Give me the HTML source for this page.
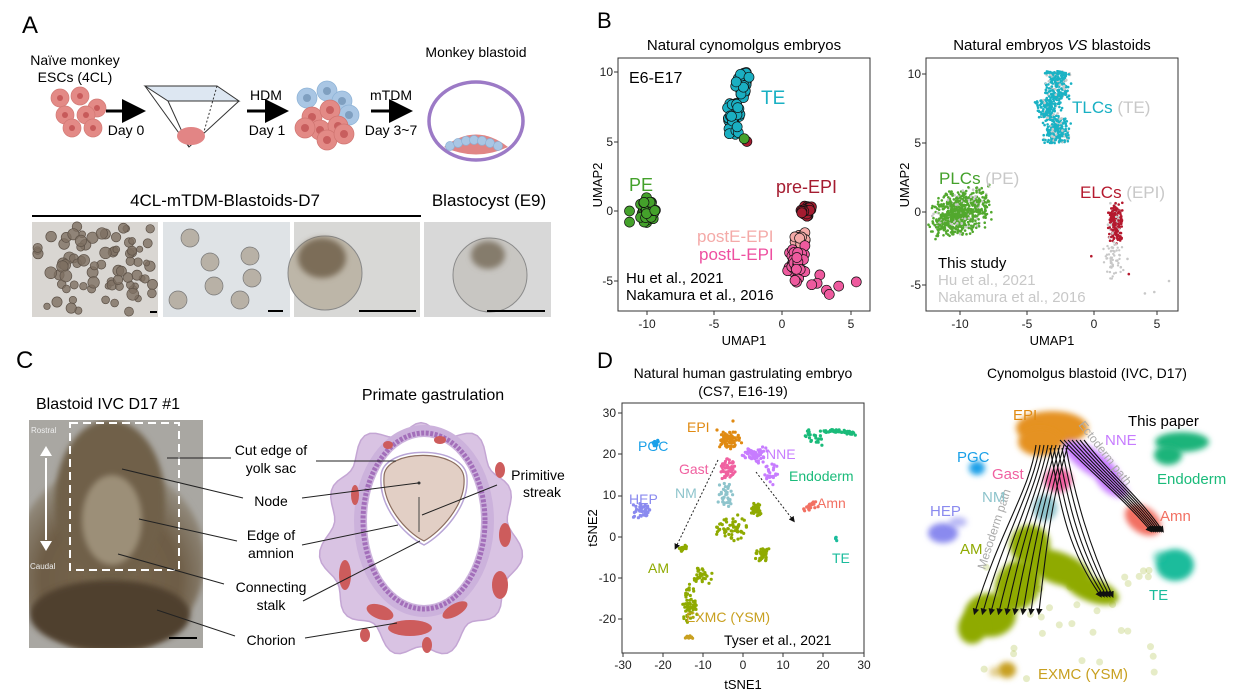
<!DOCTYPE html>
<html><head><meta charset="utf-8"><style>
html,body{margin:0;padding:0;background:#fff}
svg{display:block;font-family:"Liberation Sans",Arial,sans-serif}
</style></head><body>
<svg id="s" width="1249" height="695" viewBox="0 0 1249 695" xmlns="http://www.w3.org/2000/svg">
<defs>
<filter id="bl" x="-50%" y="-50%" width="200%" height="200%"><feGaussianBlur stdDeviation="3"/></filter>
<radialGradient id="ph" cx="0.5" cy="0.6" r="0.6"><stop offset="0" stop-color="#7a6a52"/><stop offset="0.6" stop-color="#6d5c45"/><stop offset="1" stop-color="#9a9488"/></radialGradient>
<clipPath id="cp"><rect x="29" y="420" width="174" height="228"/></clipPath>
<marker id="ar" markerWidth="8" markerHeight="8" refX="6" refY="4" orient="auto"><path d="M0,0 L8,4 L0,8 z" fill="#000"/></marker>
<marker id="ar2" markerWidth="6" markerHeight="6" refX="3" refY="3" orient="auto"><path d="M0,0 L6,3 L0,6 z" fill="#111"/></marker>
</defs>

<text x="22" y="33" font-size="24">A</text>
<text x="597" y="28" font-size="22">B</text>
<text x="16" y="368" font-size="24">C</text>
<text x="597" y="368" font-size="22">D</text>

<!-- ===== Panel A ===== -->
<text x="75" y="65" font-size="14" text-anchor="middle">Naïve monkey</text>
<text x="75" y="82" font-size="14" text-anchor="middle">ESCs (4CL)</text>
<g id="esc"></g>
<line x1="106" y1="111" x2="140" y2="111" stroke="#000" stroke-width="3" marker-end="url(#ar)"/>
<text x="126" y="135" font-size="14" text-anchor="middle">Day 0</text>
<polygon points="145,86 217,86 239,101 168,101" fill="#dde7f2" stroke="#333" stroke-width="1"/>
<polyline points="145,86 189,147 239,101" fill="none" stroke="#333"/>
<line x1="168" y1="101" x2="189" y2="147" stroke="#333"/>
<line x1="217" y1="86" x2="203" y2="135" stroke="#333" stroke-dasharray="2,2"/>
<ellipse cx="191" cy="136" rx="14" ry="9" fill="#e28585"/>
<line x1="247" y1="111" x2="283" y2="111" stroke="#000" stroke-width="3" marker-end="url(#ar)"/>
<text x="266" y="100" font-size="14" text-anchor="middle">HDM</text>
<text x="267" y="135" font-size="14" text-anchor="middle">Day 1</text>
<g id="clu"></g>
<line x1="371" y1="111" x2="407" y2="111" stroke="#000" stroke-width="3" marker-end="url(#ar)"/>
<text x="391" y="100" font-size="14" text-anchor="middle">mTDM</text>
<text x="391" y="135" font-size="14" text-anchor="middle">Day 3~7</text>
<text x="476" y="57" font-size="14" text-anchor="middle">Monkey blastoid</text>
<ellipse cx="476" cy="121" rx="47" ry="39" fill="#fff" stroke="#9c7ac6" stroke-width="3.5"/>
<path d="M444,147 Q476,122 508,147 Q476,162 444,147z" fill="#e08585"/>
<g id="tro"></g>
<text x="225" y="206" font-size="17" text-anchor="middle">4CL-mTDM-Blastoids-D7</text>
<line x1="32" y1="216" x2="421" y2="216" stroke="#000" stroke-width="2"/>
<text x="489" y="206" font-size="17" text-anchor="middle">Blastocyst (E9)</text>
<rect x="32" y="222" width="126" height="95" fill="#d9d6d2"/>
<rect x="163" y="222" width="127" height="95" fill="#dfe3e6"/>
<rect x="294" y="222" width="126" height="95" fill="#d8d8d6"/>
<rect x="424" y="222" width="127" height="95" fill="#d8d8d8"/>
<g id="ph1"></g>
<circle cx="325" cy="273" r="37" fill="#bdb6a8" stroke="#888" stroke-width="1"/>
<ellipse cx="322" cy="258" rx="24" ry="20" fill="#7c6d58" filter="url(#bl)"/>
<circle cx="490" cy="275" r="37" fill="#c8c6c2" stroke="#8a8a8a" stroke-width="1"/>
<ellipse cx="488" cy="255" rx="17" ry="14" fill="#857b6c" filter="url(#bl)"/>
<line x1="150" y1="312" x2="157" y2="312" stroke="#000" stroke-width="2"/>
<line x1="268" y1="311" x2="283" y2="311" stroke="#000" stroke-width="2"/>
<line x1="359" y1="311" x2="416" y2="311" stroke="#000" stroke-width="2"/>
<line x1="487" y1="311" x2="545" y2="311" stroke="#000" stroke-width="2"/>

<!-- ===== Panel B left ===== -->
<text x="744" y="50" font-size="15" text-anchor="middle">Natural cynomolgus embryos</text>
<rect x="618" y="58" width="252" height="253" fill="none" stroke="#333" stroke-width="1"/>
<g font-size="12" text-anchor="end" fill="#222">
<text x="613" y="76">10</text><text x="613" y="146">5</text><text x="613" y="215">0</text><text x="613" y="285">-5</text></g>
<g stroke="#333"><line x1="614" y1="72" x2="618" y2="72"/><line x1="614" y1="142" x2="618" y2="142"/><line x1="614" y1="211" x2="618" y2="211"/><line x1="614" y1="281" x2="618" y2="281"/>
<line x1="647" y1="311" x2="647" y2="315"/><line x1="714" y1="311" x2="714" y2="315"/><line x1="782" y1="311" x2="782" y2="315"/><line x1="851" y1="311" x2="851" y2="315"/></g>
<g font-size="12" text-anchor="middle" fill="#222"><text x="647" y="328">-10</text><text x="714" y="328">-5</text><text x="782" y="328">0</text><text x="851" y="328">5</text></g>
<text x="744" y="345" font-size="13" text-anchor="middle">UMAP1</text>
<text x="0" y="0" font-size="13" text-anchor="middle" transform="translate(602,185) rotate(-90)">UMAP2</text>
<g id="bl_pts"></g>
<text x="629" y="83" font-size="16">E6-E17</text>
<text x="761" y="104" font-size="19" fill="#19b0c3">TE</text>
<text x="629" y="191" font-size="18" fill="#44a12b">PE</text>
<text x="776" y="193" font-size="18" fill="#a51c30">pre-EPI</text>
<text x="697" y="242" font-size="17" fill="#f4aaa8">postE-EPI</text>
<text x="699" y="260" font-size="17" fill="#ee4fa0">postL-EPI</text>
<text x="626" y="283" font-size="15">Hu et al., 2021</text>
<text x="626" y="300" font-size="15">Nakamura et al., 2016</text>

<!-- ===== Panel B right ===== -->
<text x="1052" y="50" font-size="15" text-anchor="middle">Natural embryos <tspan font-style="italic">VS</tspan> blastoids</text>
<rect x="926" y="58" width="252" height="253" fill="none" stroke="#333" stroke-width="1"/>
<g font-size="12" text-anchor="end" fill="#222">
<text x="921" y="78">10</text><text x="921" y="147">5</text><text x="921" y="216">0</text><text x="921" y="289">-5</text></g>
<g stroke="#333"><line x1="922" y1="74" x2="926" y2="74"/><line x1="922" y1="143" x2="926" y2="143"/><line x1="922" y1="212" x2="926" y2="212"/><line x1="922" y1="285" x2="926" y2="285"/>
<line x1="960" y1="311" x2="960" y2="315"/><line x1="1027" y1="311" x2="1027" y2="315"/><line x1="1094" y1="311" x2="1094" y2="315"/><line x1="1157" y1="311" x2="1157" y2="315"/></g>
<g font-size="12" text-anchor="middle" fill="#222"><text x="960" y="328">-10</text><text x="1027" y="328">-5</text><text x="1094" y="328">0</text><text x="1157" y="328">5</text></g>
<text x="1052" y="345" font-size="13" text-anchor="middle">UMAP1</text>
<text x="0" y="0" font-size="13" text-anchor="middle" transform="translate(909,185) rotate(-90)">UMAP2</text>
<g id="br_pts"></g>
<text x="1072" y="113" font-size="17" fill="#19b0c3">TLCs <tspan fill="#c8c8c8">(TE)</tspan></text>
<text x="939" y="184" font-size="17" fill="#44a12b">PLCs <tspan fill="#c8c8c8">(PE)</tspan></text>
<text x="1080" y="198" font-size="17" fill="#b5192e">ELCs <tspan fill="#c8c8c8">(EPI)</tspan></text>
<text x="938" y="268" font-size="15">This study</text>
<text x="938" y="285" font-size="15" fill="#c8c8c8">Hu et al., 2021</text>
<text x="938" y="302" font-size="15" fill="#c8c8c8">Nakamura et al., 2016</text>

<!-- ===== Panel C ===== -->
<text x="36" y="409" font-size="16">Blastoid IVC D17 #1</text>
<rect x="29" y="420" width="174" height="228" fill="#a9a7a2"/>
<g clip-path="url(#cp)">
<ellipse cx="110" cy="560" rx="95" ry="95" fill="url(#ph)" filter="url(#bl)"/>
<ellipse cx="110" cy="500" rx="55" ry="80" fill="#6f6048" filter="url(#bl)"/>
<ellipse cx="112" cy="520" rx="30" ry="45" fill="#9c8f78" filter="url(#bl)"/>
<ellipse cx="110" cy="615" rx="80" ry="35" fill="#4f412f" filter="url(#bl)"/>
</g>
<rect x="70" y="423" width="109" height="147" fill="none" stroke="#fff" stroke-width="2" stroke-dasharray="8,5"/>
<line x1="46" y1="458" x2="46" y2="540" stroke="#fff" stroke-width="2"/>
<polygon points="40,456 52,456 46,446" fill="#fff"/><polygon points="40,541 52,541 46,551" fill="#fff"/>
<text x="31" y="433" font-size="8" fill="#eee">Rostral</text>
<text x="30" y="569" font-size="8" fill="#eee">Caudal</text>
<line x1="169" y1="638" x2="197" y2="638" stroke="#000" stroke-width="2"/>
<text x="433" y="400" font-size="16" text-anchor="middle">Primate gastrulation</text>
<path id="outer" d="" fill="#d9c3e3" stroke="#c4a6d4" stroke-width="1.5"/>
<ellipse cx="424" cy="521" rx="70" ry="96" fill="#ccb2dc"/>
<ellipse cx="424" cy="521" rx="61" ry="88" fill="none" stroke="#a36fba" stroke-width="5" stroke-dasharray="3,1.5"/>
<ellipse cx="424" cy="521" rx="57" ry="84" fill="#fff"/>
<g id="red"></g>
<path d="M384,477 C384,448 462,448 464,478 C466,505 440,532 424,541 C406,532 382,505 384,477z" fill="#e2cfc5" stroke="#8b6d5e" stroke-width="1.2"/>
<path d="M381,477 C381,444 466,444 467,478 C469,507 442,535 424,545 C404,535 379,507 381,477z" fill="none" stroke="#b8a5d6" stroke-width="1.5"/>
<circle cx="419" cy="483" r="1.5" fill="#333"/>
<line x1="419" y1="497" x2="419" y2="532" stroke="#444" stroke-width="1"/>
<g font-size="14" text-anchor="middle">
<text x="271" y="455">Cut edge of</text><text x="271" y="473">yolk sac</text>
<text x="271" y="506">Node</text>
<text x="271" y="540">Edge of</text><text x="271" y="558">amnion</text>
<text x="271" y="592">Connecting</text><text x="271" y="610">stalk</text>
<text x="271" y="645">Chorion</text>
<text x="538" y="480">Primitive</text><text x="542" y="497">streak</text></g>
<g stroke="#222" stroke-width="1" fill="none">
<line x1="167" y1="458" x2="231" y2="458"/><line x1="316" y1="461" x2="396" y2="461"/>
<line x1="122" y1="469" x2="243" y2="498"/><line x1="302" y1="498" x2="418" y2="483"/>
<line x1="139" y1="519" x2="237" y2="541"/><line x1="302" y1="545" x2="398" y2="525"/>
<line x1="118" y1="554" x2="224" y2="584"/><line x1="303" y1="601" x2="420" y2="541"/>
<line x1="157" y1="610" x2="235" y2="636"/><line x1="305" y1="638" x2="397" y2="623"/>
<line x1="422" y1="515" x2="497" y2="485"/></g>

<!-- ===== Panel D left ===== -->
<text x="743" y="378" font-size="14" text-anchor="middle">Natural human gastrulating embryo</text>
<text x="743" y="396" font-size="14" text-anchor="middle">(CS7, E16-19)</text>
<rect x="622" y="403" width="242" height="250" fill="none" stroke="#333" stroke-width="1"/>
<g font-size="12" text-anchor="end" fill="#222">
<text x="616" y="417">30</text><text x="616" y="458">20</text><text x="616" y="499">10</text><text x="616" y="541">0</text><text x="616" y="582">-10</text><text x="616" y="623">-20</text></g>
<g font-size="12" text-anchor="middle" fill="#222"><text x="623" y="669">-30</text><text x="663" y="669">-20</text><text x="703" y="669">-10</text><text x="743" y="669">0</text><text x="783" y="669">10</text><text x="823" y="669">20</text><text x="864" y="669">30</text></g>
<g id="dticks" stroke="#333"></g>
<text x="743" y="689" font-size="13" text-anchor="middle">tSNE1</text>
<text x="0" y="0" font-size="13" text-anchor="middle" transform="translate(597,528) rotate(-90)">tSNE2</text>
<g id="dl_pts"></g>
<line x1="718" y1="460" x2="676" y2="547" stroke="#222" stroke-dasharray="2,2" marker-end="url(#ar2)"/>
<line x1="756" y1="472" x2="793" y2="520" stroke="#222" stroke-dasharray="2,2" marker-end="url(#ar2)"/>
<g font-size="14">
<text x="687" y="432" fill="#e08a12">EPI</text>
<text x="638" y="451" fill="#1aa0e8">PGC</text>
<text x="679" y="474" fill="#f060a0">Gast</text>
<text x="766" y="459" fill="#c77cff">NNE</text>
<text x="789" y="481" fill="#1abb7a">Endoderm</text>
<text x="629" y="504" fill="#8a8aef">HEP</text>
<text x="675" y="498" fill="#8ec4cc">NM</text>
<text x="817" y="508" fill="#f27062">Amn</text>
<text x="832" y="563" fill="#1abc9c">TE</text>
<text x="648" y="573" fill="#8faa00">AM</text>
<text x="686" y="622" fill="#c8a020">EXMC (YSM)</text>
<text x="724" y="645" fill="#000">Tyser et al., 2021</text></g>

<!-- ===== Panel D right ===== -->
<text x="1087" y="378" font-size="14" text-anchor="middle">Cynomolgus blastoid (IVC, D17)</text>
<g id="dr_pts"></g>
<g id="stream" fill="none" stroke="#111" stroke-width="1.1"></g>
<text x="0" y="0" font-size="12" fill="#aaa" transform="translate(1078,425) rotate(52)">Ectoderm path</text>
<text x="0" y="0" font-size="12" fill="#aaa" transform="translate(985,570) rotate(-72)">Mesoderm path</text>
<g font-size="15">
<text x="1013" y="420" fill="#e08a12">EPI</text>
<text x="1128" y="426" fill="#000">This paper</text>
<text x="1105" y="445" fill="#c77cff">NNE</text>
<text x="957" y="462" fill="#1aa0e8">PGC</text>
<text x="992" y="479" fill="#f060a0">Gast</text>
<text x="1157" y="484" fill="#1abb7a">Endoderm</text>
<text x="982" y="502" fill="#8ec4cc">NM</text>
<text x="930" y="516" fill="#8a8aef">HEP</text>
<text x="1160" y="521" fill="#f27062">Amn</text>
<text x="960" y="554" fill="#8faa00">AM</text>
<text x="1149" y="600" fill="#1abc9c">TE</text>
<text x="1038" y="679" fill="#c8a020">EXMC (YSM)</text></g>
</svg>
<script>
(function(){
var s=12345;function r(){s=(s*1103515245+12345)%2147483648;return s/2147483648;}
function g(){return (r()+r()-1);}
var NS="http://www.w3.org/2000/svg";
function el(p,t,a){var e=document.createElementNS(NS,t);for(var k in a)e.setAttribute(k,a[k]);document.getElementById(p).appendChild(e);return e;}
function c(p,x,y,rad,f,st,op){var a={cx:x.toFixed(1),cy:y.toFixed(1),r:rad,fill:f};if(st){a.stroke=st;a["stroke-width"]=0.7;}if(op)a["fill-opacity"]=op;el(p,"circle",a);}
[[60,98],[80,96],[97,108],[86,115],[65,115],[72,128],[93,128]].forEach(function(p){c("esc",p[0],p[1],9,"#e38a86","#d27975");c("esc",p[0],p[1],3,"#c75a5a");});
[[307,98],[327,91],[342,101],[349,115]].forEach(function(p){c("clu",p[0],p[1],10,"#a9c6e4","#8cb2d6");c("clu",p[0],p[1],4,"#7f9fc0");});
[[312,117],[330,110],[320,130],[338,126],[305,128],[327,140],[344,134]].forEach(function(p){c("clu",p[0],p[1],10,"#e38a86","#cf7470");c("clu",p[0],p[1],4,"#c85e5e");});
for(var i=0;i<7;i++){c("tro",450+i*8,146-Math.sin(i/6*Math.PI)*6,4.5,"#a9c6e4","#8cb2d6");}
for(var i=0;i<80;i++){var x=37+r()*116,y=226+r()*86;c("ph1",x,y,3+r()*3,"#7d6f62","#5d5248",0.8);}
[[190,238],[210,262],[250,256],[178,300],[214,286],[240,300],[252,278]].forEach(function(p){c("ph1",p[0],p[1],9,"#b8b1a6","#777");});
function X1(u){return 782+13.5*u;}function Y1(v){return 211-13.9*v;}
for(i=0;i<70;i++){var t=r();var u=-3.2+g()*0.6+(t<0.5?-0.3:0.2),v=5.5+t*4.5;c("bl_pts",X1(u),Y1(v),5,"#1aafc2","#111");}
c("bl_pts",X1(-2.6),Y1(5),5,"#a51c30","#111");c("bl_pts",X1(-2.8),Y1(5.2),5,"#44a12b","#111");
for(i=0;i<45;i++)c("bl_pts",X1(-10+g()*0.7),Y1(g()*1),5,"#44a12b","#111");
c("bl_pts",X1(-11.3),Y1(0),5,"#44a12b","#111");c("bl_pts",X1(-11.3),Y1(-0.8),5,"#44a12b","#111");
for(i=0;i<30;i++)c("bl_pts",X1(1.8+g()*0.5),Y1(0+g()*0.5),5,"#a51c30","#111");
for(i=0;i<15;i++)c("bl_pts",X1(1.5+g()*0.6),Y1(-2+g()*0.7),5,"#f4aaa8","#111");
for(i=0;i<40;i++)c("bl_pts",X1(1+g()*0.9),Y1(-3.8+g()*1.4),5,"#ee5a9e","#111");
[[2.8,-4.6],[2.6,-5.2],[3.3,-5.7],[3.5,-6],[4.2,-5.4],[5.5,-5.1],[2.2,-5.3]].forEach(function(p){c("bl_pts",X1(p[0]),Y1(p[1]),5,"#ee5a9e","#111");});
function X2(u){return 1094+13.4*u;}function Y2(v){return 212-13.8*v;}
for(i=0;i<600;i++){var t=r();var u=-3.1+g()*1.1+(t>0.6?0.4:(t>0.35?-0.3:0.3)),v=5+t*5.2;c("br_pts",X2(u),Y2(v),1.3,r()<0.15?"#c8c8c8":"#1ab2c4");}
for(i=0;i<700;i++){var u=-10+g()*2.4,v=g()*1.8+(u+10)*0.25;c("br_pts",X2(u),Y2(v),1.3,r()<0.1?"#c8c8c8":"#52a82e");}
for(i=0;i<220;i++){var u=1.6+g()*0.6,v=-0.8+g()*1.6;c("br_pts",X2(u),Y2(v),1.3,r()<0.2?"#c8c8c8":"#b5192e");}
for(i=0;i<60;i++)c("br_pts",X2(1.4+g()*0.9),Y2(-3.5+g()*1.6),1.2,"#c8c8c8");
[[5.6,-5],[4.5,-5.8],[3.8,-5.9],[-0.2,-3.2],[2.5,-3.4],[2,-4],[2.6,-4.5]].forEach(function(p){c("br_pts",X2(p[0]),Y2(p[1]),1.3,p[0]<0||p[0]==2.6?"#b5192e":"#c8c8c8");});
[413,454,496,537,578,619].forEach(function(y){el("dticks","line",{x1:618,y1:y,x2:622,y2:y});});
[623,663,703,743,783,823,864].forEach(function(x){el("dticks","line",{x1:x,y1:653,x2:x,y2:657});});
function Y3(t){return 537-4.12*t;}
function cl(id,n,cx,cy,sx,sy,col,rad){for(var k=0;k<n;k++)c(id,cx+g()*sx,cy+g()*sy,rad,col);}
cl("dl_pts",70,730,440,12,9,"#e08a12",1.6);c("dl_pts",733,421,1.6,"#e08a12");c("dl_pts",717,430,1.6,"#e08a12");
cl("dl_pts",60,755,455,14,9,"#c77cff",1.6);cl("dl_pts",25,770,475,8,12,"#c77cff",1.6);
cl("dl_pts",50,728,468,9,12,"#f060a0",1.6);
cl("dl_pts",35,726,495,8,14,"#8ec4cc",1.6);
for(i=0;i<70;i++){var t=r();c("dl_pts",805+t*50+g()*3,Y3(25)+(t<0.35?g()*6+t*20:-Math.sin(t*3)*3)+g()*2,1.6,"#1abb7a");}
cl("dl_pts",20,810,508,10,7,"#f27062",1.6);
cl("dl_pts",14,655,443,5,4,"#1aa0e8",1.6);
cl("dl_pts",45,642,510,13,9,"#8a8aef",1.6);
cl("dl_pts",5,836,540,1,5,"#1abc9c",1.6);
cl("dl_pts",45,757,510,7,8,"#8faa00",1.6);cl("dl_pts",60,733,528,18,14,"#8faa00",1.6);
cl("dl_pts",40,762,554,8,8,"#8faa00",1.6);cl("dl_pts",60,690,605,8,24,"#8faa00",1.6);cl("dl_pts",35,702,575,10,10,"#8faa00",1.6);
cl("dl_pts",20,683,548,8,4,"#8faa00",1.6);
cl("dl_pts",16,690,637,5,2,"#c8a020",1.6);
function blob(cx,cy,rx,ry,col,op,rot){var e=el("dr_pts","ellipse",{cx:cx,cy:cy,rx:rx,ry:ry,fill:col,"fill-opacity":op||1,filter:"url(#bl)"});if(rot)e.setAttribute("transform","rotate("+rot+" "+cx+" "+cy+")");}
for(i=0;i<40;i++){c("dr_pts",960+r()*200,560+r()*120,3.5,"#8faa00",null,0.22);}
blob(1052,428,36,17,"#e59220");blob(1040,442,22,14,"#e59220");
blob(1092,462,34,12,"#c77cff",1,35);blob(1112,485,18,9,"#c77cff",1,35);
blob(1143,520,20,13,"#f27062",1,35);
blob(1175,565,19,16,"#1abc9c");blob(1160,557,7,6,"#1abc9c",0.5);
blob(1182,442,27,10,"#1cb47a");blob(1168,455,14,10,"#1cb47a");
blob(977,468,8,7,"#1aa0e8");
blob(943,533,15,10,"#8a8aef");blob(958,522,9,5,"#8a8aef",0.6);
blob(1058,480,14,12,"#f060a0");
blob(1045,508,12,13,"#8ec4cc");
blob(1030,545,20,20,"#8faa00");blob(1058,568,34,16,"#8faa00",1,20);blob(1092,590,28,12,"#8faa00",1,20);
blob(1018,585,22,26,"#8faa00",1,30);blob(990,615,26,22,"#8faa00");blob(972,628,14,16,"#8faa00");
blob(1007,670,9,8,"#c8a020");blob(995,672,6,5,"#c8a020",0.5);
function sl(d){el("stream","path",{d:d,"marker-end":"url(#ar2)"});}
for(i=0;i<9;i++){sl("M"+(1036+i*4)+",445 C"+(1030+i*3)+",490 "+(1000+i*6)+",530 "+(975+i*8)+",612");}
for(i=0;i<5;i++){sl("M"+(1050+i*4)+",448 C"+(1060+i*4)+",500 "+(1065+i*6)+",545 "+(1100+i*3)+",595");}
for(i=0;i<7;i++){sl("M"+(1060+i*4)+",440 C"+(1090+i*3)+",472 "+(1120+i*3)+",495 "+(1150+i*2)+",530");}
})();
(function(){var d="",cx=421,cy=538,N=120;for(var i=0;i<=N;i++){var a=i/N*2*Math.PI;var w=1+0.06*Math.sin(a*11)+0.03*Math.sin(a*5);var x=cx+95*w*Math.cos(a),y=cy+112*w*Math.sin(a);d+=(i?"L":"M")+x.toFixed(1)+","+y.toFixed(1);}document.getElementById("outer").setAttribute("d",d+"Z");
var NS="http://www.w3.org/2000/svg",g=document.getElementById("red");
[[380,612,14,7,20],[410,628,22,8,0],[455,610,14,6,-30],[500,585,8,14,0],[505,535,6,12,0],[345,575,6,15,0],[355,495,4,10,0],[500,470,5,8,0],[440,440,6,4,0],[388,445,5,4,0],[365,635,5,7,0],[427,645,5,8,0]].forEach(function(p){var e=document.createElementNS(NS,"ellipse");e.setAttribute("cx",p[0]);e.setAttribute("cy",p[1]);e.setAttribute("rx",p[2]);e.setAttribute("ry",p[3]);e.setAttribute("fill","#cd5c5c");e.setAttribute("transform","rotate("+p[4]+" "+p[0]+" "+p[1]+")");g.appendChild(e);});})();
</script>
</body></html>
